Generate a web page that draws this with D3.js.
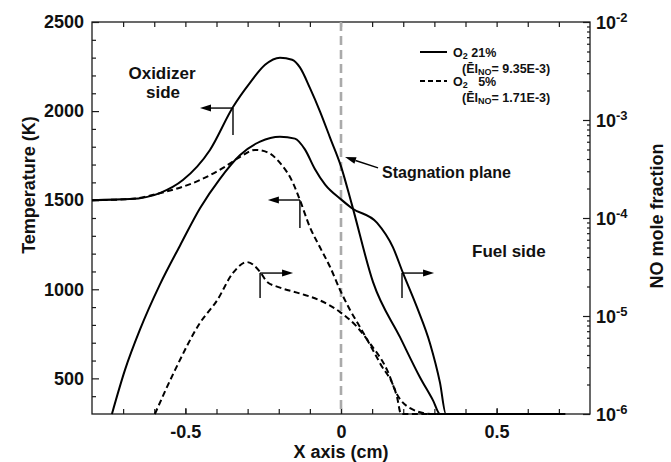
<!DOCTYPE html>
<html><head><meta charset="utf-8">
<script src="https://cdn.jsdelivr.net/npm/d3@7"></script>
<style>
body{margin:0;background:#fff;}
text{font-family:"Liberation Sans",Arial,Helvetica,sans-serif;font-weight:bold;fill:#111;}
</style></head>
<body><svg id="c" width="671" height="462"></svg>
<script>
// ---------- data ----------
// Temperature, O2 21% (left axis, K)
const t21 = [[-0.8,1500],[-0.678,1506],[-0.582,1540],[-0.508,1613],[-0.421,1782],[-0.347,2023],[-0.292,2160],[-0.244,2260],[-0.196,2300],[-0.157,2288],[-0.132,2245],[-0.1,2130],[-0.068,2000],[-0.035,1850],[0,1690],[0.035,1475],[0.103,1040],[0.19,730],[0.254,505],[0.296,375],[0.318,300],[0.5,300],[0.72,300]];
// Temperature, O2 5% (left axis, K)
const t5 = [[-0.8,1500],[-0.678,1506],[-0.58,1540],[-0.453,1613],[-0.379,1681],[-0.325,1742],[-0.276,1782],[-0.238,1770],[-0.196,1709],[-0.154,1596],[-0.132,1501],[-0.1,1349],[-0.068,1237],[-0.035,1125],[-0.003,996],[0.029,884],[0.061,788],[0.125,586],[0.18,395],[0.193,300],[0.5,300],[0.72,300]];
// NO mole fraction, O2 21% (right axis, log10)
const no21 = [[-0.736,-6.0],[-0.694,-5.55],[-0.646,-5.14],[-0.582,-4.68],[-0.517,-4.28],[-0.453,-3.9],[-0.389,-3.6],[-0.325,-3.36],[-0.26,-3.22],[-0.196,-3.17],[-0.148,-3.19],[-0.116,-3.3],[-0.084,-3.5],[-0.051,-3.66],[0,-3.81],[0.035,-3.9],[0.116,-4.05],[0.167,-4.3],[0.199,-4.56],[0.244,-4.91],[0.286,-5.28],[0.318,-5.68],[0.337,-6.0],[0.5,-6.0],[0.72,-6.0]];
// NO mole fraction, O2 5% (right axis, log10)
const no5 = [[-0.598,-6.0],[-0.533,-5.55],[-0.453,-5.07],[-0.398,-4.84],[-0.347,-4.56],[-0.302,-4.45],[-0.26,-4.55],[-0.238,-4.65],[-0.196,-4.71],[-0.132,-4.77],[-0.068,-4.84],[-0.003,-4.96],[0.051,-5.11],[0.093,-5.28],[0.148,-5.55],[0.18,-5.8],[0.222,-5.94],[0.289,-6.0],[0.5,-6.0],[0.72,-6.0]];

const xTicks = [-0.5, 0, 0.5];
const tTicks = [500, 1000, 1500, 2000, 2500];
const noTicks = [1e-6, 1e-5, 1e-4, 1e-3, 1e-2];
const legendLabels = [["O","2"," 21%"],["O","2","   5%"]];
const legendEI = ["9.35E-3","1.71E-3"];

// ---------- layout ----------
const svg = d3.select("#c");
const L=92, R=590, T=22, B=414;
const x = d3.scaleLinear().domain([-0.8,0.8]).range([L,R]);
const yT = d3.scaleLinear().domain([300,2500]).range([B,T]);
const yN = d3.scaleLog().domain([1e-6,1e-2]).range([B,T]);
const ink="#1a1a1a";

// frame
svg.append("rect").attr("x",L).attr("y",T).attr("width",R-L).attr("height",B-T)
  .attr("fill","none").attr("stroke",ink).attr("stroke-width",1.3);

function styleAxis(g){g.select(".domain").remove();g.selectAll("line").attr("stroke",ink).attr("stroke-width",1.2);
  g.selectAll("text").attr("font-size",18).attr("fill","#111").attr("font-family","Liberation Sans, Arial, sans-serif").attr("font-weight","bold");}

// bottom axis
const xMinor = d3.range(-7,8).map(d=>d/10);
svg.append("g").attr("transform",`translate(0,${B})`)
  .call(d3.axisBottom(x).tickValues(xMinor).tickSize(-5).tickFormat("")).call(styleAxis);
svg.append("g").attr("transform",`translate(0,${B})`)
  .call(d3.axisBottom(x).tickValues(xTicks).tickSize(-6).tickPadding(11).tickFormat(d=>d===0?"0":String(d))).call(styleAxis);
// top axis
svg.append("g").attr("transform",`translate(0,${T})`)
  .call(d3.axisTop(x).tickValues(xMinor).tickSize(-5).tickFormat("")).call(styleAxis);
// left axis
const tMinor = d3.range(400,2500,100).filter(v=>v%500!==0);
svg.append("g").attr("transform",`translate(${L},0)`)
  .call(d3.axisLeft(yT).tickValues(tMinor).tickSize(-4).tickFormat("")).call(styleAxis);
svg.append("g").attr("transform",`translate(${L},0)`)
  .call(d3.axisLeft(yT).tickValues(tTicks).tickSize(-7).tickPadding(8).tickFormat(d3.format("d"))).call(styleAxis);
// right axis
const nMinor=[];[1e-6,1e-5,1e-4,1e-3].forEach(p=>{for(let k=2;k<10;k++)nMinor.push(p*k);});
svg.append("g").attr("transform",`translate(${R},0)`)
  .call(d3.axisRight(yN).tickValues(nMinor).tickSize(-3).tickFormat("")).call(styleAxis);
const ra = svg.append("g").attr("transform",`translate(${R},0)`)
  .call(d3.axisRight(yN).tickValues(noTicks).tickSize(-7).tickPadding(6).tickFormat("")).call(styleAxis);
ra.selectAll(".tick text").each(function(d){
  const t=d3.select(this); t.text(null).attr("dy","0.36em");
  t.append("tspan").text("10");
  t.append("tspan").attr("font-size",13).attr("dy","-0.55em").text(String(Math.round(Math.log10(d))));
});

// axis titles
svg.append("text").attr("transform",`translate(35,185) rotate(-90)`).attr("text-anchor","middle")
  .attr("font-size",18).text("Temperature (K)");
svg.append("text").attr("transform",`translate(663,216) rotate(-90)`).attr("text-anchor","middle")
  .attr("font-size",18).text("NO mole fraction");
svg.append("text").attr("x",x(0)).attr("y",458).attr("text-anchor","middle")
  .attr("font-size",18).text("X axis (cm)");

// stagnation plane
svg.append("line").attr("x1",x(0)).attr("x2",x(0)).attr("y1",T).attr("y2",B)
  .attr("stroke","#aaaaaa").attr("stroke-width",2.6).attr("stroke-dasharray","9,5");

// curves
const lineT = d3.line().x(d=>x(d[0])).y(d=>yT(d[1])).curve(d3.curveMonotoneX);
const lineN = d3.line().x(d=>x(d[0])).y(d=>yN(Math.pow(10,d[1]))).curve(d3.curveMonotoneX);
const curves=[[t21,lineT,null],[no21,lineN,null],[t5,lineT,"6,3.5"],[no5,lineN,"6,3.5"]];
curves.forEach(([d,ln,dash])=>{
  svg.append("path").attr("d",ln(d)).attr("fill","none").attr("stroke","#000")
    .attr("stroke-width",2).attr("stroke-dasharray",dash);
});

// axis-indicator arrows (data units: x, temperature-scale positions)
const arrows = [
  {x:-0.347, y1:2017, y2:1866, xTo:-0.453},
  {x:-0.132, y1:1501, y2:1344, xTo:-0.235},
  {x:-0.260, y1:1091, y2:951, xTo:-0.154},
  {x:0.196, y1:1091, y2:951, xTo:0.299}
];
arrows.forEach(a=>{
  const px=x(a.x), py=yT(a.y1), tx=x(a.xTo), dir=Math.sign(tx-px);
  svg.append("line").attr("x1",px).attr("x2",px).attr("y1",py).attr("y2",yT(a.y2)).attr("stroke","#000").attr("stroke-width",1.4);
  svg.append("line").attr("x1",px).attr("x2",tx-dir*8).attr("y1",py).attr("y2",py).attr("stroke","#000").attr("stroke-width",1.4);
  svg.append("path").attr("d",`M${tx},${py}L${tx-dir*11},${py-3.5}L${tx-dir*11},${py+3.5}Z`).attr("fill","#000");
});
// stagnation arrow
(function(){
  const x1=x(0.119), y1=yT(1681), x2=x(0.013), y2=yT(1742);
  const ang=Math.atan2(y2-y1,x2-x1), len=11, w=3.5;
  const bx=x2-len*Math.cos(ang), by=y2-len*Math.sin(ang);
  svg.append("line").attr("x1",x1).attr("y1",y1).attr("x2",bx).attr("y2",by).attr("stroke","#000").attr("stroke-width",1.4);
  svg.append("path").attr("d",`M${x2},${y2}L${bx+w*Math.sin(ang)},${by-w*Math.cos(ang)}L${bx-w*Math.sin(ang)},${by+w*Math.cos(ang)}Z`).attr("fill","#000");
})();

// annotations
svg.append("text").attr("x",162).attr("y",79).attr("text-anchor","middle").attr("font-size",17).text("Oxidizer");
svg.append("text").attr("x",163).attr("y",98).attr("text-anchor","middle").attr("font-size",17).text("side");
svg.append("text").attr("x",382).attr("y",178).attr("font-size",16).text("Stagnation plane");
svg.append("text").attr("x",472).attr("y",257).attr("font-size",17).text("Fuel side");

// legend
const lg = svg.append("g");
[0,1].forEach(i=>{
  const y0 = 52 + i*29;
  lg.append("line").attr("x1",420).attr("x2",447).attr("y1",y0).attr("y2",y0).attr("stroke","#000")
    .attr("stroke-width",2).attr("stroke-dasharray",i?"5,3":null);
  const t1 = lg.append("text").attr("x",453).attr("y",y0+5).attr("font-size",12.5).attr("xml:space","preserve");
  t1.append("tspan").text(legendLabels[i][0]);
  t1.append("tspan").attr("font-size",9).attr("dy",2).text(legendLabels[i][1]);
  t1.append("tspan").attr("dy",-2).text(legendLabels[i][2]);
  const t2 = lg.append("text").attr("x",462).attr("y",y0+20.5).attr("font-size",12.5);
  t2.append("tspan").text("(ĒI");
  t2.append("tspan").attr("font-size",9).attr("dy",2).text("NO");
  t2.append("tspan").attr("dy",-2).text("= "+legendEI[i]+")");
});
</script></body></html>
